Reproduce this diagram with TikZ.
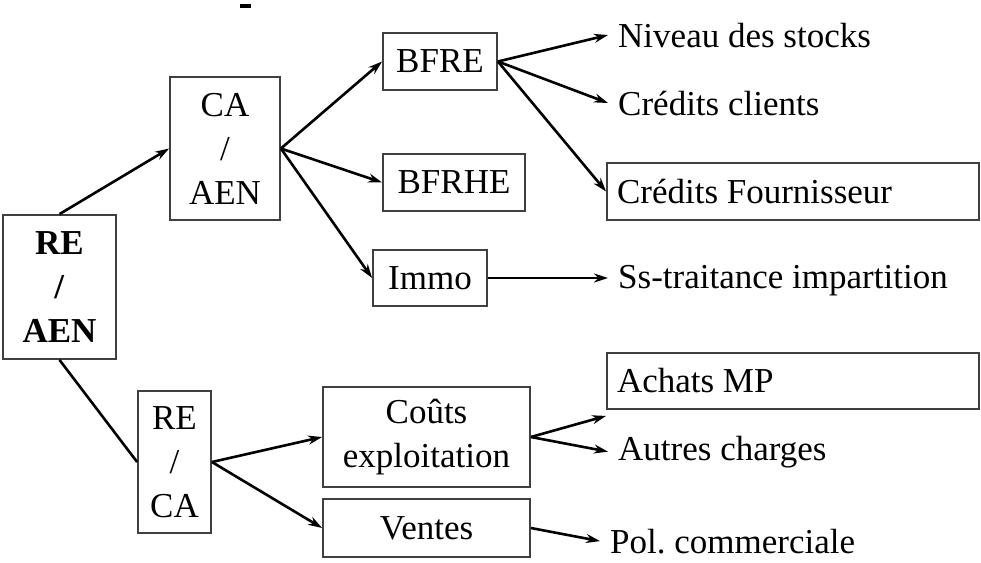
\documentclass[tikz,border=0pt]{standalone}
\usepackage{fontspec}
\setmainfont{Liberation Serif}
\usetikzlibrary{arrows.meta}
\frenchspacing
\begin{document}
\begin{tikzpicture}[x=1pt,y=-1pt,
  txt/.style={font=\fontsize{35}{44}\selectfont},
  box/.style={txt,draw=black!75,line width=1.8pt,inner sep=0pt,align=center},
  widebox/.style={txt,draw=black!75,line width=1.8pt,text width=352pt,inner xsep=10pt,inner ysep=0pt,align=flush left},
  lbl/.style={txt,inner xsep=10pt,inner ysep=0pt,anchor=base west},
  arr/.style={line width=2.6pt,-{Stealth[length=14pt,width=9pt]}},
  ln/.style={line width=2.6pt}]
\useasboundingbox (0,0) rectangle (981,562);
\fill (240,4) rectangle (251,8);
% boxes
\node[box,minimum width=113pt,minimum height=144pt] (reaen) at (59.5,287) {\textbf{RE}\\\textbf{/}\\\textbf{AEN}};
\node[box,minimum width=110pt,minimum height=143pt] (caaen) at (225,148.5) {CA\\/\\AEN};
\node[box,minimum width=114pt,minimum height=57pt] (bfre) at (440,61.5) {BFRE};
\node[box,minimum width=142pt,minimum height=57pt] (bfrhe) at (454,182.5) {BFRHE};
\node[box,minimum width=114pt,minimum height=56pt] (immo) at (430,278) {Immo};
\node[widebox,minimum height=57pt] (credf) at (793,191.5) {Crédits Fournisseur};
\node[widebox,minimum height=56pt] (achats) at (793,381) {Achats MP};
\node[box,minimum width=73pt,minimum height=142pt] (reca) at (174.5,462) {RE\\/\\CA};
\node[box,minimum width=207pt,minimum height=100pt] (couts) at (426.5,437) {Coûts\\exploitation};
\node[box,minimum width=207pt,minimum height=58pt] (ventes) at (426.5,528) {Ventes};
% labels
\node[lbl] (niveau) at (608,47) {Niveau des stocks};
\node[lbl] (credc) at (608,115) {Crédits clients};
\node[lbl] (sst) at (608,288) {Ss-traitance impartition};
\node[lbl] (autres) at (608,460) {Autres charges};
\node[lbl] (pol) at (600,553) {Pol. commerciale};
% connectors
\draw[arr] (reaen.north) -- (caaen.west);
\draw[ln] (reaen.south) -- (reca.west);
\draw[arr] (caaen.east) -- (bfre.west);
\draw[arr] (caaen.east) -- (bfrhe.west);
\draw[arr] (caaen.east) -- (immo.west);
\draw[arr] (bfre.east) -- (niveau.west);
\draw[arr] (bfre.east) -- (credc.west);
\draw[arr] (bfre.east) -- (credf.west);
\draw[arr] (immo.east) -- (immo.east -| sst.west);
\draw[arr] (reca.east) -- (couts.west);
\draw[arr] (reca.east) -- (ventes.west);
\draw[arr] (couts.east) -- ([yshift=-6pt]achats.south west);
\draw[arr] (couts.east) -- (autres.west);
\draw[arr] (ventes.east) -- (pol.west);
\end{tikzpicture}
\end{document}
